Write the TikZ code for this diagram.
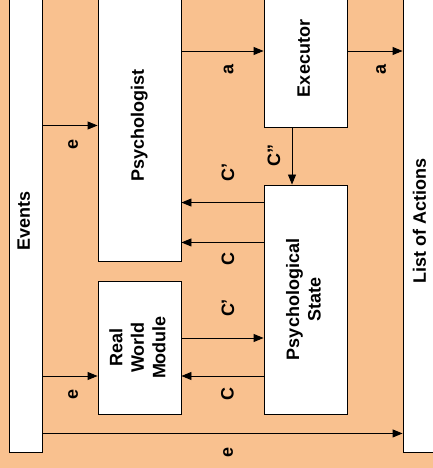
\documentclass[tikz,border=0pt]{standalone}
\usepackage{fontspec}
\usepackage{graphicx}
\setmainfont{Liberation Sans}
\usetikzlibrary{arrows.meta}
\definecolor{peach}{RGB}{249,193,143}
\newcommand{\sidetext}[1]{\rotatebox{90}{\begin{tabular}{@{}c@{}}#1\end{tabular}}}
\begin{document}
\begin{tikzpicture}[x=1pt, y=1pt, >={Triangle[length=10pt,width=8pt]},
  box/.style={draw, fill=white, line width=0.9pt, inner sep=0pt, font=\fontsize{18}{21.5}\selectfont\bfseries},
  lbl/.style={font=\fontsize{18}{21.5}\selectfont\bfseries},
  wire/.style={line width=0.9pt}]

 \fill[peach] (0,0) rectangle (433,468);
 \useasboundingbox (0,0) rectangle (433,468);
 \clip (0,0) rectangle (433,468);

 % boxes
 \node[box, minimum width=33pt, minimum height=462pt] (ev) at (25.5,247) {\sidetext{Events}};
 \node[box, minimum width=83pt, minimum height=271pt] (psy) at (139.5,342.5) {\sidetext{Psychologist}};
 \node[box, minimum width=83pt, minimum height=133pt] (rwm) at (139.5,120.5) {\sidetext{Real\\World\\Module}};
 \node[box, minimum width=83pt, minimum height=137pt] (exe) at (305.5,409.5) {\sidetext{Executor}};
 \node[box, minimum width=83pt, minimum height=229pt] (ps) at (305.5,168.5) {\sidetext{Psychological\\State}};
 \node[box, minimum width=37pt, minimum height=462pt] (act) at (421.5,247) {\sidetext{List of Actions}};

 % connectors
 \coordinate (aa) at ([yshift=7.5pt]exe.west);
 \coordinate (cp) at ([yshift=-18pt]ps.north west);
 \coordinate (cc) at ([yshift=19pt]psy.south east);
 \coordinate (rc) at ([yshift=9.5pt]rwm.east);
 \coordinate (rw) at ([yshift=-28.5pt]rwm.east);
 \coordinate (ee) at ([yshift=19pt]ev.south east);

 \draw[wire,->] (psy.west -| ev.east) -- (psy.west) node[lbl, midway, xshift=3pt, yshift=-19pt, rotate=90]{e};
 \draw[wire,->] (aa -| psy.east) -- (aa) node[lbl, midway, xshift=6pt, yshift=-19pt, rotate=90]{a};
 \draw[wire,->] (aa -| exe.east) -- (aa -| act.west) node[lbl, midway, xshift=6pt, yshift=-19pt, rotate=90]{a};
 \draw[wire,->] ([xshift=-13.5pt]exe.south) -- ([xshift=-13.5pt]ps.north) node[lbl, midway, xshift=-18pt, rotate=90]{C”};
 \draw[wire,->] (cp) -- (cp -| psy.east) node[lbl, midway, xshift=5.5pt, yshift=30pt, rotate=90]{C’};
 \draw[wire,->] (cc -| ps.west) -- (cc) node[lbl, midway, xshift=5.5pt, yshift=-17pt, rotate=90]{C};
 \draw[wire,->] (rc) -- (rc -| ps.west) node[lbl, midway, xshift=5.5pt, yshift=30pt, rotate=90]{C’};
 \draw[wire,->] (rw -| ps.west) -- (rw) node[lbl, midway, xshift=5pt, yshift=-18pt, rotate=90]{C};
 \draw[wire,->] (rw -| ev.east) -- (rw -| rwm.west) node[lbl, midway, xshift=3pt, yshift=-18pt, rotate=90]{e};
 \draw[wire,->] (ee) -- (ee -| act.west) node[lbl, midway, xshift=5.5pt, yshift=-19pt, rotate=90]{e};

\end{tikzpicture}
\end{document}
